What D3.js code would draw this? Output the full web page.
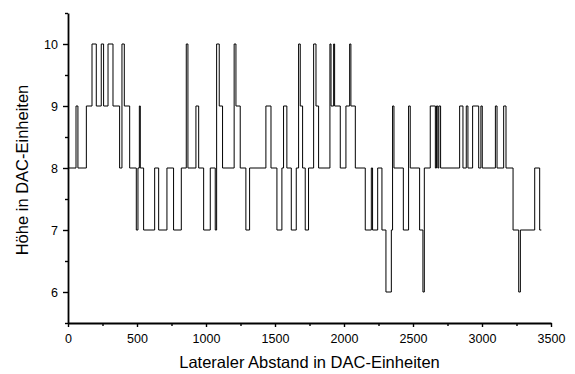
<!DOCTYPE html>
<html>
<head>
<meta charset="utf-8">
<script src="https://cdn.jsdelivr.net/npm/d3@7"></script>
<style>
  body { margin: 0; background: #fff; }
  svg { display: block; font-family: "Liberation Sans", Arial, sans-serif; }
</style>
</head>
<body>
<div id="chart"></div>
<script>
// step profile: position where a level starts, and that level
var posX = [0, 58, 72, 133, 174, 205, 241, 258, 290, 326, 374, 391, 408, 447, 495, 507, 517, 524, 548,
  628, 657, 717, 765, 821, 857, 869, 927, 947, 983, 1031, 1067, 1077, 1096, 1120,
  1204, 1217, 1248, 1289, 1316, 1434, 1471, 1514, 1550, 1562, 1586, 1618, 1654, 1671, 1683, 1700, 1719, 1743,
  1780, 1797, 1816, 1898, 1906, 1925, 1932, 1973, 2014, 2041, 2050, 2082, 2154, 2198, 2207, 2244, 2275,
  2304, 2343, 2352, 2362, 2430, 2468, 2480, 2548, 2572, 2582, 2625, 2662, 2670, 2680, 2687, 2700,
  2838, 2862, 2886, 2898, 2932, 2976, 2992, 3002, 3097, 3109, 3157, 3174, 3225, 3266, 3278, 3382, 3418, 3430];
var level = [8, 9, 8, 9, 10, 9, 10, 9, 10, 9, 8, 10, 9, 8, 7, 8, 9, 8, 7,
  8, 7, 8, 7, 8, 10, 8, 9, 8, 7, 8, 7, 10, 9, 8,
  10, 9, 8, 7, 8, 9, 8, 7, 8, 9, 8, 7, 8, 10, 9, 8, 7, 8,
  10, 9, 8, 10, 9, 10, 9, 8, 9, 10, 9, 8, 7, 8, 7, 8, 7,
  6, 7, 9, 8, 7, 9, 8, 7, 6, 8, 9, 8, 9, 8, 9, 8,
  9, 8, 9, 8, 9, 8, 9, 8, 9, 8, 9, 8, 7, 6, 7, 8, 7, 7];

var xTicks = [0, 500, 1000, 1500, 2000, 2500, 3000, 3500];
var xMinor = [250, 750, 1250, 1750, 2250, 2750, 3250];
var yTicks = [6, 7, 8, 9, 10];
var yMinor = [5.5, 6.5, 7.5, 8.5, 9.5, 10.5];

var data = posX.map(function(x, i) { return { x: x, y: level[i] }; });

var svgWidth = 575;
var svgHeight = 374;
var margin = { top: 13, right: 24, bottom: 51, left: 68 };
var width = svgWidth - margin.left - margin.right;
var height = svgHeight - margin.top - margin.bottom;

var svg = d3.select("#chart")
  .append("svg")
  .attr("width", svgWidth)
  .attr("height", svgHeight);

var chartGroup = svg.append("g")
  .attr("transform", `translate(${margin.left}, ${margin.top})`);

var xScale = d3.scaleLinear().domain([0, 3500]).range([0, 483]);
var yScale = d3.scaleLinear().domain([5.5, 10.5]).range([height, 0]);

// minor ticks first
chartGroup.append("g")
  .attr("transform", `translate(0, ${height})`)
  .call(d3.axisBottom(xScale).tickValues(xMinor).tickSize(3).tickFormat(""))
  .call(g => g.select(".domain").remove());
chartGroup.append("g")
  .call(d3.axisLeft(yScale).tickValues(yMinor).tickSize(3).tickFormat(""))
  .call(g => g.select(".domain").remove());

var xAxis = chartGroup.append("g")
  .attr("transform", `translate(0, ${height})`)
  .call(d3.axisBottom(xScale).tickValues(xTicks).tickFormat(d3.format("d"))
    .tickSize(4).tickPadding(7).tickSizeOuter(0));
var yAxis = chartGroup.append("g")
  .call(d3.axisLeft(yScale).tickValues(yTicks).tickFormat(d3.format("d"))
    .tickSize(5).tickPadding(5).tickSizeOuter(0));

chartGroup.selectAll(".tick line").attr("stroke", "#000").attr("stroke-width", 1.4);
chartGroup.selectAll(".domain").attr("stroke", "#000").attr("stroke-width", 1.8);
chartGroup.selectAll(".tick text").attr("font-size", "12.5px").attr("fill", "#000")
  .attr("font-family", "'Liberation Sans', Arial, sans-serif");

// step line
var line = d3.line()
  .x(d => xScale(d.x))
  .y(d => yScale(d.y))
  .curve(d3.curveStepAfter);

chartGroup.append("path")
  .datum(data)
  .attr("fill", "none")
  .attr("stroke", "#000")
  .attr("stroke-width", 1)
  .attr("d", line);

// titles
chartGroup.append("text")
  .attr("x", xScale(1750))
  .attr("y", height + 45)
  .attr("text-anchor", "middle")
  .attr("font-size", "16.5px")
  .text("Lateraler Abstand in DAC-Einheiten");

chartGroup.append("text")
  .attr("transform", "rotate(-90)")
  .attr("x", -(height / 2) - 2)
  .attr("y", -40)
  .attr("text-anchor", "middle")
  .attr("font-size", "16.5px")
  .text("Höhe in DAC-Einheiten");
</script>
</body>
</html>
